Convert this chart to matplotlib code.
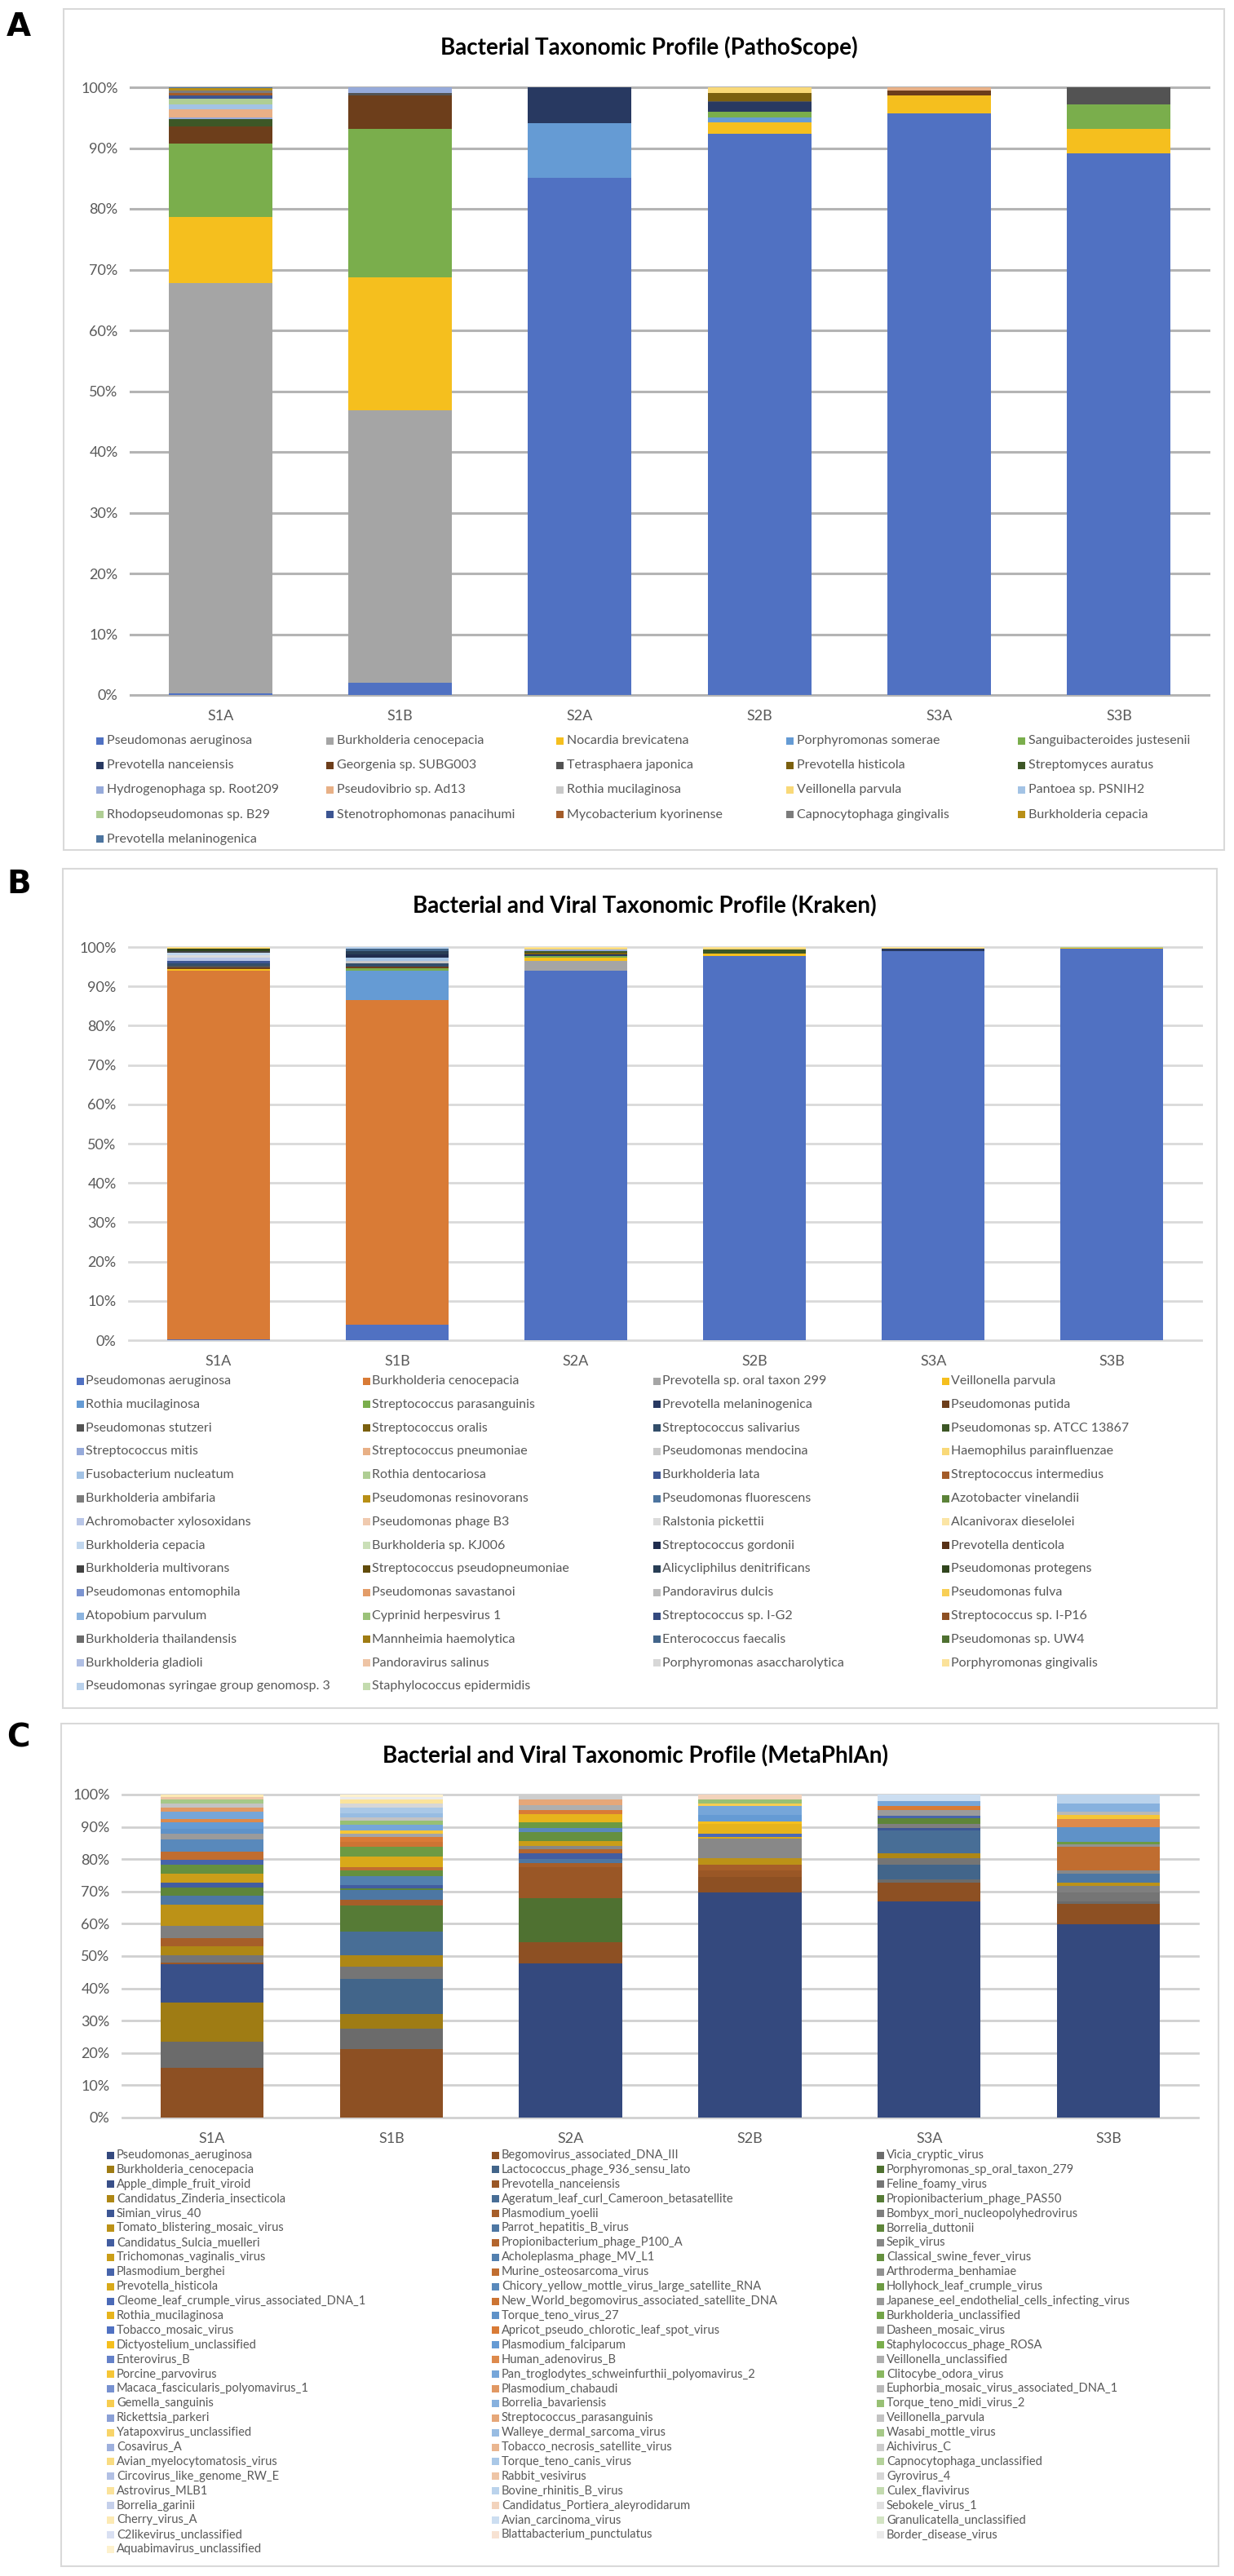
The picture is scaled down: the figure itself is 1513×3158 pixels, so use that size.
import numpy as np
import matplotlib
matplotlib.use("Agg")
import matplotlib.pyplot as plt
from matplotlib.patches import Rectangle
from matplotlib.colors import to_rgb

W, H = 1513, 3158

plt.rcParams["font.family"] = ["Lato", "DejaVu Sans"]

samples = ["S1A", "S1B", "S2A", "S2B", "S3A", "S3B"]

# ---------------- Panel A : PathoScope ----------------
a_species = ["Pseudomonas aeruginosa", "Burkholderia cenocepacia", "Nocardia brevicatena",
             "Porphyromonas somerae", "Sanguibacteroides justesenii", "Prevotella nanceiensis",
             "Georgenia sp. SUBG003", "Tetrasphaera japonica", "Prevotella histicola",
             "Streptomyces auratus", "Hydrogenophaga sp. Root209", "Pseudovibrio sp. Ad13",
             "Rothia mucilaginosa", "Veillonella parvula", "Pantoea sp. PSNIH2",
             "Rhodopseudomonas sp. B29", "Stenotrophomonas panacihumi", "Mycobacterium kyorinense",
             "Capnocytophaga gingivalis", "Burkholderia cepacia", "Prevotella melaninogenica"]

a_s1a = {"Pseudomonas aeruginosa": 0.3, "Burkholderia cenocepacia": 67.5, "Nocardia brevicatena": 10.8,
         "Sanguibacteroides justesenii": 12.1, "Georgenia sp. SUBG003": 2.9, "Streptomyces auratus": 1.2,
         "Hydrogenophaga sp. Root209": 0.3, "Pseudovibrio sp. Ad13": 1.3, "Pantoea sp. PSNIH2": 0.8,
         "Rhodopseudomonas sp. B29": 0.9, "Stenotrophomonas panacihumi": 0.5,
         "Mycobacterium kyorinense": 0.4, "Capnocytophaga gingivalis": 0.4,
         "Burkholderia cepacia": 0.4, "Prevotella melaninogenica": 0.2}
a_s1b = {"Pseudomonas aeruginosa": 2.0, "Burkholderia cenocepacia": 44.8, "Nocardia brevicatena": 21.9,
         "Sanguibacteroides justesenii": 24.4, "Georgenia sp. SUBG003": 5.5,
         "Tetrasphaera japonica": 0.4, "Hydrogenophaga sp. Root209": 1.0}
a_s2a = {"Pseudomonas aeruginosa": 85.15, "Porphyromonas somerae": 9.0, "Prevotella nanceiensis": 5.85}
a_s2b = {"Pseudomonas aeruginosa": 92.3, "Nocardia brevicatena": 1.9, "Porphyromonas somerae": 0.9,
         "Sanguibacteroides justesenii": 0.9, "Prevotella nanceiensis": 1.6, "Tetrasphaera japonica": 0.1,
         "Prevotella histicola": 1.4, "Veillonella parvula": 0.9}
a_s3a = {"Pseudomonas aeruginosa": 95.7, "Nocardia brevicatena": 2.9, "Georgenia sp. SUBG003": 0.8,
         "Pseudovibrio sp. Ad13": 0.6}
a_s3b = {"Pseudomonas aeruginosa": 89.1, "Nocardia brevicatena": 4.0, "Sanguibacteroides justesenii": 4.1,
         "Tetrasphaera japonica": 2.8}

# ---------------- Panel B : Kraken ----------------
b_species = ["Pseudomonas aeruginosa", "Burkholderia cenocepacia", "Prevotella sp. oral taxon 299", "Veillonella parvula",
             "Rothia mucilaginosa", "Streptococcus parasanguinis", "Prevotella melaninogenica", "Pseudomonas putida",
             "Pseudomonas stutzeri", "Streptococcus oralis", "Streptococcus salivarius", "Pseudomonas sp. ATCC 13867",
             "Streptococcus mitis", "Streptococcus pneumoniae", "Pseudomonas mendocina", "Haemophilus parainfluenzae",
             "Fusobacterium nucleatum", "Rothia dentocariosa", "Burkholderia lata", "Streptococcus intermedius",
             "Burkholderia ambifaria", "Pseudomonas resinovorans", "Pseudomonas fluorescens", "Azotobacter vinelandii",
             "Achromobacter xylosoxidans", "Pseudomonas phage B3", "Ralstonia pickettii", "Alcanivorax dieselolei",
             "Burkholderia cepacia", "Burkholderia sp. KJ006", "Streptococcus gordonii", "Prevotella denticola",
             "Burkholderia multivorans", "Streptococcus pseudopneumoniae", "Alicycliphilus denitrificans", "Pseudomonas protegens",
             "Pseudomonas entomophila", "Pseudomonas savastanoi", "Pandoravirus dulcis", "Pseudomonas fulva",
             "Atopobium parvulum", "Cyprinid herpesvirus 1", "Streptococcus sp. I-G2", "Streptococcus sp. I-P16",
             "Burkholderia thailandensis", "Mannheimia haemolytica", "Enterococcus faecalis", "Pseudomonas sp. UW4",
             "Burkholderia gladioli", "Pandoravirus salinus", "Porphyromonas asaccharolytica", "Porphyromonas gingivalis",
             "Pseudomonas syringae group genomosp. 3", "Staphylococcus epidermidis"]

b_s1a = {"Pseudomonas aeruginosa": 0.2, "Burkholderia cenocepacia": 93.8, "Veillonella parvula": 0.5,
         "Pseudomonas putida": 0.3, "Pseudomonas stutzeri": 0.4, "Streptococcus salivarius": 0.6,
         "Burkholderia lata": 0.7, "Achromobacter xylosoxidans": 0.8, "Ralstonia pickettii": 0.6,
         "Burkholderia cepacia": 0.6, "Burkholderia multivorans": 0.5, "Pseudomonas protegens": 0.5,
         "Pseudomonas fulva": 0.3, "Porphyromonas gingivalis": 0.2}
b_s1b = {"Pseudomonas aeruginosa": 4.0, "Burkholderia cenocepacia": 82.5, "Rothia mucilaginosa": 7.5,
         "Streptococcus parasanguinis": 0.6, "Pseudomonas putida": 0.4, "Streptococcus salivarius": 0.9,
         "Pseudomonas mendocina": 0.5, "Fusobacterium nucleatum": 0.8, "Streptococcus gordonii": 0.9,
         "Alicycliphilus denitrificans": 0.8, "Enterococcus faecalis": 0.6,
         "Pseudomonas syringae group genomosp. 3": 0.5}
b_s2a = {"Pseudomonas aeruginosa": 93.9, "Prevotella sp. oral taxon 299": 2.6, "Veillonella parvula": 0.8,
         "Streptococcus parasanguinis": 0.5, "Prevotella melaninogenica": 0.3, "Streptococcus oralis": 0.4,
         "Pseudomonas sp. ATCC 13867": 0.4, "Streptococcus mitis": 0.4, "Haemophilus parainfluenzae": 0.4,
         "Alcanivorax dieselolei": 0.3}
b_s2b = {"Pseudomonas aeruginosa": 97.8, "Veillonella parvula": 0.5, "Pseudomonas sp. ATCC 13867": 1.0,
         "Haemophilus parainfluenzae": 0.4, "Porphyromonas gingivalis": 0.3}
b_s3a = {"Pseudomonas aeruginosa": 99.0, "Prevotella melaninogenica": 0.5, "Haemophilus parainfluenzae": 0.3,
         "Alcanivorax dieselolei": 0.2}
b_s3b = {"Pseudomonas aeruginosa": 99.5, "Veillonella parvula": 0.2, "Rothia dentocariosa": 0.3}

# ---------------- Panel C : MetaPhlAn ----------------
c_col1 = ["Pseudomonas_aeruginosa", "Burkholderia_cenocepacia", "Apple_dimple_fruit_viroid",
          "Candidatus_Zinderia_insecticola", "Simian_virus_40", "Tomato_blistering_mosaic_virus",
          "Candidatus_Sulcia_muelleri", "Trichomonas_vaginalis_virus", "Plasmodium_berghei",
          "Prevotella_histicola", "Cleome_leaf_crumple_virus_associated_DNA_1", "Rothia_mucilaginosa",
          "Tobacco_mosaic_virus", "Dictyostelium_unclassified", "Enterovirus_B", "Porcine_parvovirus",
          "Macaca_fascicularis_polyomavirus_1", "Gemella_sanguinis", "Rickettsia_parkeri",
          "Yatapoxvirus_unclassified", "Cosavirus_A", "Avian_myelocytomatosis_virus",
          "Circovirus_like_genome_RW_E", "Astrovirus_MLB1", "Borrelia_garinii", "Cherry_virus_A",
          "C2likevirus_unclassified", "Aquabimavirus_unclassified"]
c_col2 = ["Begomovirus_associated_DNA_III", "Lactococcus_phage_936_sensu_lato", "Prevotella_nanceiensis",
          "Ageratum_leaf_curl_Cameroon_betasatellite", "Plasmodium_yoelii", "Parrot_hepatitis_B_virus",
          "Propionibacterium_phage_P100_A", "Acholeplasma_phage_MV_L1", "Murine_osteosarcoma_virus",
          "Chicory_yellow_mottle_virus_large_satellite_RNA", "New_World_begomovirus_associated_satellite_DNA",
          "Torque_teno_virus_27", "Apricot_pseudo_chlorotic_leaf_spot_virus", "Plasmodium_falciparum",
          "Human_adenovirus_B", "Pan_troglodytes_schweinfurthii_polyomavirus_2", "Plasmodium_chabaudi",
          "Borrelia_bavariensis", "Streptococcus_parasanguinis", "Walleye_dermal_sarcoma_virus",
          "Tobacco_necrosis_satellite_virus", "Torque_teno_canis_virus", "Rabbit_vesivirus",
          "Bovine_rhinitis_B_virus", "Candidatus_Portiera_aleyrodidarum", "Avian_carcinoma_virus",
          "Blattabacterium_punctulatus"]
c_col3 = ["Vicia_cryptic_virus", "Porphyromonas_sp_oral_taxon_279", "Feline_foamy_virus",
          "Propionibacterium_phage_PAS50", "Bombyx_mori_nucleopolyhedrovirus", "Borrelia_duttonii",
          "Sepik_virus", "Classical_swine_fever_virus", "Arthroderma_benhamiae",
          "Hollyhock_leaf_crumple_virus", "Japanese_eel_endothelial_cells_infecting_virus",
          "Burkholderia_unclassified", "Dasheen_mosaic_virus", "Staphylococcus_phage_ROSA",
          "Veillonella_unclassified", "Clitocybe_odora_virus", "Euphorbia_mosaic_virus_associated_DNA_1",
          "Torque_teno_midi_virus_2", "Veillonella_parvula", "Wasabi_mottle_virus", "Aichivirus_C",
          "Capnocytophaga_unclassified", "Gyrovirus_4", "Culex_flavivirus", "Sebokele_virus_1",
          "Granulicatella_unclassified", "Border_disease_virus"]

c_s1a = {"Begomovirus_associated_DNA_III": 15.3, "Vicia_cryptic_virus": 8.2, "Burkholderia_cenocepacia": 12.0,
         "Apple_dimple_fruit_viroid": 12.0, "Prevotella_nanceiensis": 0.6, "Feline_foamy_virus": 2.2,
         "Candidatus_Zinderia_insecticola": 2.8, "Plasmodium_yoelii": 2.4, "Bombyx_mori_nucleopolyhedrovirus": 3.8,
         "Tomato_blistering_mosaic_virus": 6.5, "Parrot_hepatitis_B_virus": 3.0, "Borrelia_duttonii": 2.4,
         "Candidatus_Sulcia_muelleri": 1.6, "Trichomonas_vaginalis_virus": 2.6, "Classical_swine_fever_virus": 2.8,
         "Plasmodium_berghei": 1.6, "Murine_osteosarcoma_virus": 2.6,
         "Chicory_yellow_mottle_virus_large_satellite_RNA": 3.8,
         "Japanese_eel_endothelial_cells_infecting_virus": 1.8, "Torque_teno_virus_27": 1.4,
         "Plasmodium_falciparum": 1.9, "Human_adenovirus_B": 1.2,
         "Pan_troglodytes_schweinfurthii_polyomavirus_2": 2.1, "Plasmodium_chabaudi": 1.3,
         "Veillonella_parvula": 1.3, "Wasabi_mottle_virus": 1.3, "Rabbit_vesivirus": 0.8, "Cherry_virus_A": 0.7}
c_s1b = {"Begomovirus_associated_DNA_III": 21.3, "Vicia_cryptic_virus": 6.3, "Burkholderia_cenocepacia": 4.5,
         "Lactococcus_phage_936_sensu_lato": 10.9, "Feline_foamy_virus": 3.7,
         "Candidatus_Zinderia_insecticola": 3.6, "Ageratum_leaf_curl_Cameroon_betasatellite": 7.4,
         "Propionibacterium_phage_PAS50": 7.9, "Plasmodium_yoelii": 1.8, "Parrot_hepatitis_B_virus": 3.0,
         "Borrelia_duttonii": 0.6, "Candidatus_Sulcia_muelleri": 1.0, "Acholeplasma_phage_MV_L1": 2.8,
         "Classical_swine_fever_virus": 1.8, "Murine_osteosarcoma_virus": 0.9, "Prevotella_histicola": 3.3,
         "Hollyhock_leaf_crumple_virus": 3.0, "New_World_begomovirus_associated_satellite_DNA": 1.6,
         "Apricot_pseudo_chlorotic_leaf_spot_virus": 1.4, "Dasheen_mosaic_virus": 1.2,
         "Porcine_parvovirus": 0.8, "Pan_troglodytes_schweinfurthii_polyomavirus_2": 1.9,
         "Torque_teno_midi_virus_2": 1.1, "Veillonella_parvula": 1.2, "Walleye_dermal_sarcoma_virus": 1.1,
         "Torque_teno_canis_virus": 1.9, "Gyrovirus_4": 1.2, "Astrovirus_MLB1": 1.3,
         "Border_disease_virus": 0.8, "Aquabimavirus_unclassified": 0.7}
c_s2a = {"Pseudomonas_aeruginosa": 47.8, "Begomovirus_associated_DNA_III": 6.5,
         "Porphyromonas_sp_oral_taxon_279": 13.6, "Prevotella_nanceiensis": 9.7, "Plasmodium_yoelii": 1.1,
         "Parrot_hepatitis_B_virus": 1.3, "Candidatus_Sulcia_muelleri": 1.7,
         "Propionibacterium_phage_P100_A": 1.3, "Sepik_virus": 1.2, "Trichomonas_vaginalis_virus": 1.3,
         "Classical_swine_fever_virus": 2.9, "Chicory_yellow_mottle_virus_large_satellite_RNA": 1.3,
         "Hollyhock_leaf_crumple_virus": 1.6, "Rothia_mucilaginosa": 2.6,
         "Apricot_pseudo_chlorotic_leaf_spot_virus": 1.2, "Veillonella_unclassified": 1.7,
         "Streptococcus_parasanguinis": 1.7, "Aichivirus_C": 1.5}
c_s2b = {"Pseudomonas_aeruginosa": 69.6, "Begomovirus_associated_DNA_III": 5.0, "Prevotella_nanceiensis": 2.0,
         "Plasmodium_yoelii": 1.7, "Tomato_blistering_mosaic_virus": 2.1, "Sepik_virus": 5.9,
         "Prevotella_histicola": 0.6, "Cleome_leaf_crumple_virus_associated_DNA_1": 0.9,
         "Rothia_mucilaginosa": 3.2, "Dictyostelium_unclassified": 0.6, "Plasmodium_falciparum": 2.1,
         "Pan_troglodytes_schweinfurthii_polyomavirus_2": 2.7, "Gemella_sanguinis": 0.8,
         "Torque_teno_midi_virus_2": 1.3, "Candidatus_Portiera_aleyrodidarum": 1.5}
c_s3a = {"Pseudomonas_aeruginosa": 67.0, "Begomovirus_associated_DNA_III": 5.8, "Vicia_cryptic_virus": 1.0,
         "Lactococcus_phage_936_sensu_lato": 4.5, "Feline_foamy_virus": 2.1,
         "Candidatus_Zinderia_insecticola": 1.3, "Ageratum_leaf_curl_Cameroon_betasatellite": 7.1,
         "Simian_virus_40": 0.8, "Bombyx_mori_nucleopolyhedrovirus": 1.3, "Borrelia_duttonii": 1.7,
         "Plasmodium_berghei": 0.8, "Japanese_eel_endothelial_cells_infecting_virus": 1.7,
         "Apricot_pseudo_chlorotic_leaf_spot_virus": 1.3,
         "Pan_troglodytes_schweinfurthii_polyomavirus_2": 1.6, "Avian_carcinoma_virus": 2.0}
c_s3b = {"Pseudomonas_aeruginosa": 59.8, "Begomovirus_associated_DNA_III": 6.4, "Vicia_cryptic_virus": 0.8,
         "Feline_foamy_virus": 2.7, "Bombyx_mori_nucleopolyhedrovirus": 2.0,
         "Tomato_blistering_mosaic_virus": 1.1, "Parrot_hepatitis_B_virus": 2.6, "Sepik_virus": 1.2,
         "Murine_osteosarcoma_virus": 7.2, "Arthroderma_benhamiae": 0.8, "Hollyhock_leaf_crumple_virus": 0.8,
         "Torque_teno_virus_27": 4.4, "Human_adenovirus_B": 2.5, "Porcine_parvovirus": 1.3,
         "Euphorbia_mosaic_virus_associated_DNA_1": 1.1, "Borrelia_bavariensis": 2.5,
         "Bovine_rhinitis_B_virus": 2.8}

# legend is read row by row, so series order interleaves the three columns
c_species = []
for r in range(len(c_col1)):
    for col in (c_col1, c_col2, c_col3):
        if r < len(col):
            c_species.append(col[r])

# ---------------- colours ----------------
base6 = ["#5071C2", "#D97B36", "#A5A5A5", "#F5BF1E", "#659BD4", "#7AAE4C"]


def mix(c1, c2, t):
    a, b = np.array(to_rgb(c1)), np.array(to_rgb(c2))
    return tuple(a + (b - a) * t)


def excel_color(i):
    shades = [0, -0.5, 0.4, -0.25, 0.6, -0.6, 0.25, -0.35, 0.55]
    s = shades[(i // 6) % len(shades)]
    c = base6[i % 6]
    return mix(c, "black", -s) if s < 0 else mix(c, "white", s)


def gradient_color(i):
    c = base6[i % 6]
    level = i // 6
    if level <= 6:
        return mix(mix(c, "black", 0.35), c, level / 6)
    return mix(c, "white", (level - 6) / 7 * 0.78)


a_palette = [0, 2, 3, 4, 5, 6, 7, 8, 9, 11, 12, 13, 14, 15, 16, 17, 18, 19, 20, 21, 22]
a_colors = [excel_color(i) for i in a_palette]
b_colors = [excel_color(i) for i in range(len(b_species))]
c_colors = [gradient_color(i) for i in range(len(c_species))]


# ---------------- helpers ----------------
def fx(x):
    return x / W


def fy(y):
    return 1 - y / H


fig = plt.figure(figsize=(W / 100, H / 100), dpi=100)


def frame(l, t, r, b):
    fig.add_artist(Rectangle((fx(l), fy(b)), (r - l) / W, (b - t) / H, transform=fig.transFigure,
                             fill=False, edgecolor="#D9D9D9", linewidth=1.5))


def stacked(l, t, r, b, species, sample_dicts, colors, gridcolor, gridlw, fs):
    for d in sample_dicts:
        for k in d:
            assert k in species, k
    ax = fig.add_axes([fx(l), fy(b), (r - l) / W, (b - t) / H])
    x = np.arange(len(samples))
    mat = np.array([[d.get(sp, 0.0) for d in sample_dicts] for sp in species])
    mat = mat / mat.sum(axis=0) * 100
    bottom = np.zeros(len(samples))
    for i in range(len(species)):
        ax.bar(x, mat[i], bottom=bottom, width=0.575, color=colors[i], linewidth=0, zorder=2)
        bottom += mat[i]
    ax.set_xlim(-0.5, 5.5)
    ax.set_ylim(0, 100)
    ax.set_yticks(range(0, 101, 10))
    ax.set_yticklabels([f"{v}%" for v in range(0, 101, 10)])
    ax.set_xticks(x)
    ax.set_xticklabels(samples)
    for s in ax.spines.values():
        s.set_visible(False)
    ax.tick_params(length=0, labelsize=fs, labelcolor="#595959")
    ax.tick_params(axis="y", pad=11)
    ax.tick_params(axis="x", pad=13)
    ax.yaxis.grid(True, color=gridcolor, linewidth=gridlw, zorder=0)
    ax.set_axisbelow(True)
    for gl in ax.get_ygridlines():
        gl.set_clip_on(False)
    return ax


def legend(names, colors, col_x, y0, dy, fs, msize, gap):
    ncol = len(col_x)
    for i, (name, c) in enumerate(zip(names, colors)):
        r, k = divmod(i, ncol)
        x, y = col_x[k], y0 + r * dy
        fig.add_artist(Rectangle((fx(x), fy(y + msize / 2)), msize / W, msize / H,
                                 transform=fig.transFigure, facecolor=c, edgecolor="none"))
        fig.text(fx(x + gap), fy(y), name, fontsize=fs, color="#595959", va="center", ha="left")


def heading(letter, ly, title, cx, ty):
    fig.text(fx(8), fy(ly), letter, fontsize=28, fontweight="bold", family="DejaVu Sans",
             va="center", ha="left", color="black")
    fig.text(fx(cx), fy(ty), title, fontsize=20, fontweight="bold", va="center", ha="center",
             color="black")


# ---------------- Panel A ----------------
frame(78, 11, 1501, 1042)
heading("A", 33, "Bacterial Taxonomic Profile (PathoScope)", 796, 58)
stacked(160, 107, 1482, 852, a_species, [a_s1a, a_s1b, a_s2a, a_s2b, a_s3a, a_s3b], a_colors,
        "#B4B4B4", 2.2, 13)
legend(a_species, a_colors, [118, 400, 682, 964, 1248], 908, 30.2, 11.5, 9, 13)

# ---------------- Panel B ----------------
frame(77, 1065, 1492, 2094)
heading("B", 1084, "Bacterial and Viral Taxonomic Profile (Kraken)", 790, 1111)
stacked(158, 1161, 1473, 1643, b_species, [b_s1a, b_s1b, b_s2a, b_s2b, b_s3a, b_s3b], b_colors,
        "#D9D9D9", 2.0, 13)
legend(b_species, b_colors, [94, 445, 801, 1155], 1693, 28.8, 11.5, 9, 11)

# ---------------- Panel C ----------------
frame(75, 2113, 1494, 3146)
heading("C", 2131, "Bacterial and Viral Taxonomic Profile (MetaPhlAn)", 779, 2153)
stacked(150, 2200, 1469, 2596, c_species, [c_s1a, c_s1b, c_s2a, c_s2b, c_s3a, c_s3b], c_colors,
        "#D0D0D0", 2.0, 13)
legend(c_species, c_colors, [131, 603, 1075], 2642, 17.9, 10.5, 9, 12)

fig.savefig("out.png", dpi=100, facecolor="white")
